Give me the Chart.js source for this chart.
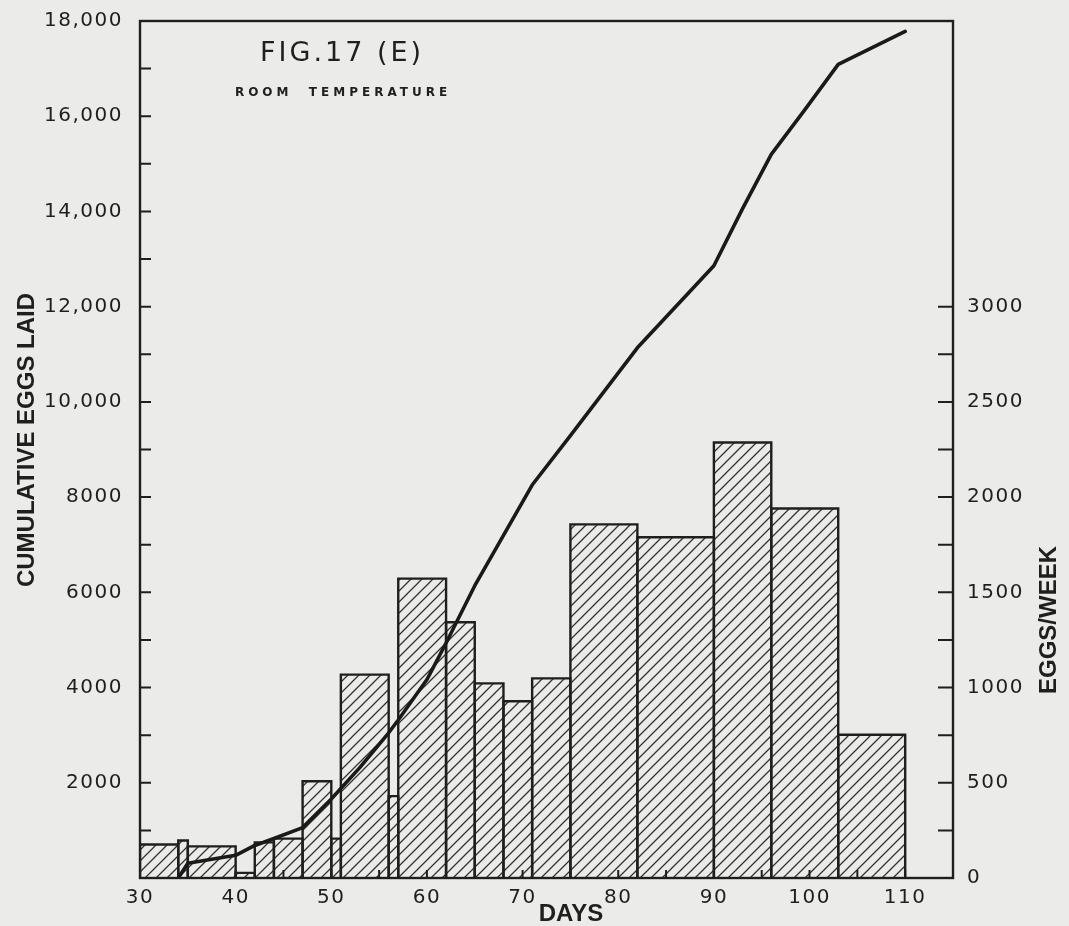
<!DOCTYPE html>
<html lang="en">
<head>
    <meta charset="UTF-8">
    <title>Fig. 17 (E) - Room temperature</title>
    <script src="https://cdn.jsdelivr.net/npm/chart.js"></script>
    <style>
        html, body {
            margin: 0;
            padding: 0;
            background-color: #ebebe9; /* paper */
            overflow: hidden;
        }
        canvas {
            display: block;
        }
    </style>
</head>
<body>
    <canvas id="eggChart" width="1069" height="926" style="width:1069px;height:926px"></canvas>

    <script>
        // weekly egg counts (right axis), one bin per collection interval
        const binStart = [30, 34, 35, 40, 42, 44, 47, 50, 51, 56, 57, 62, 65, 68, 71, 75, 82, 90, 96, 103];
        const binEnd = [34, 35, 40, 42, 44, 47, 50, 51, 56, 57, 62, 65, 68, 71, 75, 82, 90, 96, 103, 110];
        const eggsPerWeek = [176, 197, 166, 27, 187, 207, 508, 207, 1068, 430, 1572, 1343, 1022, 928, 1048, 1857, 1789, 2287, 1940, 752];

        // cumulative eggs laid (left axis)
        const cumDays = [34, 35, 40, 42, 44, 47, 50, 53, 56, 57, 60, 62, 65, 68, 71, 75, 82, 90, 93, 96, 99.5, 103, 110];
        const cumEggs = [0, 311, 477, 684, 830, 1058, 1659, 2323, 3050, 3318, 4168, 4936, 6139, 7196, 8254, 9290, 11136, 12858, 14060, 15200, 16134, 17088, 17780];

        // labelled ticks
        const dayTicks = [30, 40, 50, 60, 70, 80, 90, 100, 110];
        const cumTicks = [2000, 4000, 6000, 8000, 10000, 12000, 14000, 16000, 18000];
        const weekTicks = [0, 500, 1000, 1500, 2000, 2500, 3000];

        const ink = '#1f1f1f';
        const tickFont = { family: '"DejaVu Sans", sans-serif', size: 20 };

        // diagonal hatching used to fill the bars
        function makeHatch() {
            const c = document.createElement('canvas');
            c.width = 11;
            c.height = 11;
            const g = c.getContext('2d');
            g.strokeStyle = '#333';
            g.lineWidth = 1.3;
            g.beginPath();
            g.moveTo(-1, 12); g.lineTo(12, -1);
            g.moveTo(-1, 1); g.lineTo(1, -1);
            g.moveTo(10, 12); g.lineTo(12, 10);
            g.stroke();
            return g.createPattern(c, 'repeat');
        }
        const hatch = makeHatch();

        const barSets = binStart.map((a, i) => ({
            label: 'week ' + (i + 1),
            data: [
                { x: a, y: 0 },
                { x: a, y: eggsPerWeek[i] },
                { x: binEnd[i], y: eggsPerWeek[i] },
                { x: binEnd[i], y: 0 }
            ],
            yAxisID: 'y1',
            fill: 'origin',
            backgroundColor: hatch,
            borderColor: ink,
            borderWidth: 2.4,
            borderJoinStyle: 'miter',
            pointRadius: 0,
            tension: 0,
            order: 2
        }));

        const cumSet = {
            label: 'Cumulative eggs laid',
            data: cumDays.map((d, i) => ({ x: d, y: cumEggs[i] })),
            yAxisID: 'y',
            fill: false,
            borderColor: '#1a1a1a',
            borderWidth: 3.6,
            borderCapStyle: 'round',
            borderJoinStyle: 'round',
            pointRadius: 0,
            tension: 0,
            order: 1
        };

        // frame, inward tick marks and the hand-placed texts
        const paperPlugin = {
            id: 'paper',
            beforeDraw(chart) {
                const ctx = chart.ctx;
                ctx.fillStyle = '#ebebe9';
                ctx.fillRect(0, 0, chart.width, chart.height);
                ctx.letterSpacing = '1.5px';
            },
            afterDatasetsDraw(chart) {
                const ctx = chart.ctx;
                const a = chart.chartArea;
                ctx.save();
                ctx.strokeStyle = ink;
                ctx.lineWidth = 2.4;
                ctx.strokeRect(a.left, a.top, a.right - a.left, a.bottom - a.top);

                ctx.lineWidth = 2;
                ctx.beginPath();
                chart.scales.y.ticks.forEach(t => {
                    if (t.value <= 0 || t.value >= 18000) return;
                    const py = chart.scales.y.getPixelForValue(t.value);
                    ctx.moveTo(a.left, py);
                    ctx.lineTo(a.left + 11, py);
                });
                chart.scales.y1.ticks.forEach(t => {
                    if (t.value <= 0 || t.value > 3000) return;
                    const py = chart.scales.y1.getPixelForValue(t.value);
                    ctx.moveTo(a.right, py);
                    ctx.lineTo(a.right - 15, py);
                });
                chart.scales.x.ticks.forEach(t => {
                    if (t.value <= 30 || t.value >= 115) return;
                    const px = chart.scales.x.getPixelForValue(t.value);
                    ctx.moveTo(px, a.bottom);
                    ctx.lineTo(px, a.bottom - 8);
                });
                ctx.stroke();
                ctx.restore();
            },
            afterDraw(chart) {
                const ctx = chart.ctx;
                ctx.save();
                ctx.fillStyle = ink;
                ctx.textAlign = 'center';
                ctx.textBaseline = 'middle';

                ctx.letterSpacing = '3px';
                ctx.font = '27px "DejaVu Sans", sans-serif';
                ctx.fillText('FIG.17 (E)', 342, 54);

                ctx.letterSpacing = '4px';
                ctx.font = 'bold 12px "DejaVu Sans", sans-serif';
                ctx.fillText('ROOM  TEMPERATURE', 343, 93);

                ctx.letterSpacing = '0px';
                ctx.font = 'bold 24px "Liberation Sans", Arial, sans-serif';
                ctx.fillText('DAYS', 571, 914);

                ctx.save();
                ctx.translate(27, 440);
                ctx.rotate(-Math.PI / 2);
                ctx.fillText('CUMULATIVE EGGS LAID', 0, 0);
                ctx.restore();

                ctx.save();
                ctx.translate(1049, 620);
                ctx.rotate(-Math.PI / 2);
                ctx.fillText('EGGS/WEEK', 0, 0);
                ctx.restore();

                ctx.restore();
                ctx.letterSpacing = '0px';
            }
        };

        new Chart(document.getElementById('eggChart').getContext('2d'), {
            type: 'line',
            data: { datasets: [cumSet, ...barSets] },
            options: {
                responsive: false,
                animation: false,
                layout: { padding: { top: 11, left: 0, right: 0, bottom: 0 } },
                plugins: {
                    legend: { display: false },
                    tooltip: { enabled: false }
                },
                scales: {
                    x: {
                        type: 'linear',
                        min: 30,
                        max: 115,
                        grid: { display: false },
                        border: { display: false },
                        ticks: {
                            stepSize: 5,
                            autoSkip: false,
                            maxRotation: 0,
                            padding: 0,
                            color: ink,
                            font: tickFont,
                            callback: v => dayTicks.includes(v) ? String(v) : ''
                        },
                        afterFit: s => { s.height = 48; }
                    },
                    y: {
                        position: 'left',
                        min: 0,
                        max: 18000,
                        grid: { display: false },
                        border: { display: false },
                        ticks: {
                            stepSize: 1000,
                            autoSkip: false,
                            padding: 9,
                            color: ink,
                            font: tickFont,
                            callback: v => cumTicks.includes(v)
                                ? (v >= 10000 ? v.toLocaleString('en-US') : String(v))
                                : ''
                        },
                        afterFit: s => { s.width = 140; }
                    },
                    y1: {
                        position: 'right',
                        min: 0,
                        max: 4500,
                        grid: { display: false },
                        border: { display: false },
                        ticks: {
                            stepSize: 250,
                            autoSkip: false,
                            padding: 6,
                            color: ink,
                            font: tickFont,
                            callback: v => weekTicks.includes(v) ? String(v) : ''
                        },
                        afterFit: s => { s.width = 116; }
                    }
                }
            },
            plugins: [paperPlugin]
        });
    </script>
</body>
</html>
